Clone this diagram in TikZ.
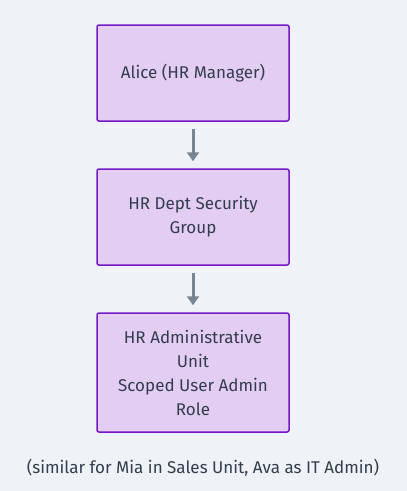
\documentclass[tikz,border=0pt]{standalone}
\usepackage{fontspec}
\setmainfont{Fira Sans}
\usetikzlibrary{arrows.meta, positioning}
\definecolor{bgcol}{HTML}{EFF2F6}
\definecolor{boxfill}{HTML}{E3CDF2}
\definecolor{boxline}{HTML}{7517C6}
\definecolor{txtcol}{HTML}{333D4D}
\definecolor{arrcol}{HTML}{778593}

\begin{document}
\begin{tikzpicture}[x=1pt,y=1pt,
		elem/.style={draw=boxline,fill=boxfill,line width=1.5pt,rounded corners=2pt,rectangle,node distance=46.5pt,align=center,minimum width=192pt,minimum height=96pt,text=txtcol,font=\fontsize{17}{24}\selectfont},
		flow/.style={-{Triangle[width=12pt,length=9pt]},draw=arrcol,line width=3pt,shorten <=7pt,shorten >=7pt}
	]
		\fill [bgcol] (0,0) rectangle (407,-491);
		\useasboundingbox (0,0) rectangle (407,-491);

		\node (alic) [elem] at (193,-73) {Alice (HR Manager)};
		\node (hrsg) [elem,below=of alic] {HR Dept Security\\Group};
		\node (hrau) [elem,below=of hrsg,minimum height=119pt] {HR Administrative\\Unit\\ Scoped User Admin\\Role};
		\node (note) [text=txtcol,font=\fontsize{17}{24}\selectfont] at (203,-468) {(similar for Mia in Sales Unit, Ava as IT Admin)};

		\draw [flow] (alic) -- (hrsg);
		\draw [flow] (hrsg) -- (hrau);
	\end{tikzpicture}
\end{document}
